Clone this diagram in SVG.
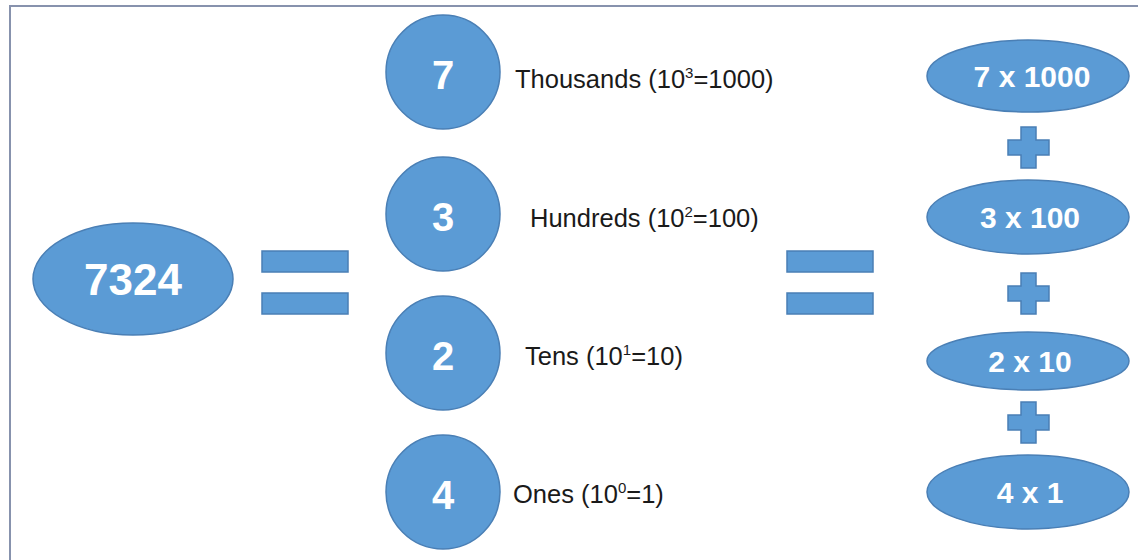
<svg xmlns="http://www.w3.org/2000/svg" width="1138" height="560" viewBox="0 0 1138 560">
  <style>
    .shape { fill: #5b9bd5; stroke: #4a7fb5; stroke-width: 1.5; }
    .num { font-family: "Liberation Sans", Arial, sans-serif; font-weight: bold; fill: #ffffff; text-anchor: middle; }
    .lbl { font-family: "Liberation Sans", Arial, sans-serif; font-size: 25.5px; fill: #1a1a1a; }
    .sup { font-size: 15px; }
  </style>

  <!-- page background and frame -->
  <rect x="0" y="0" width="1138" height="560" fill="#ffffff"/>
  <path d="M10 560 V6 H1138" fill="none" stroke="#8792ad" stroke-width="2"/>

  <!-- the whole number -->
  <g id="number">
    <ellipse class="shape" cx="133" cy="279" rx="100" ry="56"/>
    <text class="num" x="133" y="295" font-size="44">7324</text>
  </g>

  <!-- place-value digits -->
  <g id="digit-thousands">
    <circle class="shape" cx="443" cy="72" r="57"/>
    <text class="num" x="443" y="89" font-size="40">7</text>
    <text class="lbl" x="515" y="88">Thousands (10<tspan class="sup" dy="-10">3</tspan><tspan dy="10">=1000)</tspan></text>
  </g>
  <g id="digit-hundreds">
    <circle class="shape" cx="443" cy="214" r="57"/>
    <text class="num" x="443" y="231" font-size="40">3</text>
    <text class="lbl" x="530" y="227">Hundreds (10<tspan class="sup" dy="-10">2</tspan><tspan dy="10">=100)</tspan></text>
  </g>
  <g id="digit-tens">
    <circle class="shape" cx="443" cy="353" r="57"/>
    <text class="num" x="443" y="370" font-size="40">2</text>
    <text class="lbl" x="525" y="365">Tens (10<tspan class="sup" dy="-10">1</tspan><tspan dy="10">=10)</tspan></text>
  </g>
  <g id="digit-ones">
    <circle class="shape" cx="443" cy="492" r="57"/>
    <text class="num" x="443" y="509" font-size="40">4</text>
    <text class="lbl" x="513" y="503">Ones (10<tspan class="sup" dy="-10">0</tspan><tspan dy="10">=1)</tspan></text>
  </g>

  <!-- expanded terms -->
  <g id="term-1000">
    <ellipse class="shape" cx="1028" cy="76" rx="101" ry="36"/>
    <text class="num" x="1032" y="87" font-size="30">7 x 1000</text>
  </g>
  <g id="term-100">
    <ellipse class="shape" cx="1028" cy="217" rx="101" ry="37"/>
    <text class="num" x="1030" y="228" font-size="30">3 x 100</text>
  </g>
  <g id="term-10">
    <ellipse class="shape" cx="1028" cy="361" rx="101" ry="29"/>
    <text class="num" x="1030" y="372" font-size="30">2 x 10</text>
  </g>
  <g id="term-1">
    <ellipse class="shape" cx="1028" cy="492" rx="101" ry="37"/>
    <text class="num" x="1030" y="503" font-size="30">4 x 1</text>
  </g>

  <!-- equals and plus operators -->
  <g id="operators">
    <rect class="shape" x="262" y="251" width="86" height="21"/>
    <rect class="shape" x="262" y="293" width="86" height="21"/>
    <rect class="shape" x="787" y="251" width="86" height="21"/>
    <rect class="shape" x="787" y="293" width="86" height="21"/>
    <path class="shape" d="M1021 127 H1036 V140 H1049 V155 H1036 V168 H1021 V155 H1008 V140 H1021 Z"/>
    <path class="shape" d="M1021 273 H1036 V286 H1049 V301 H1036 V314 H1021 V301 H1008 V286 H1021 Z"/>
    <path class="shape" d="M1021 402 H1036 V415 H1049 V430 H1036 V443 H1021 V430 H1008 V415 H1021 Z"/>
  </g>
</svg>
